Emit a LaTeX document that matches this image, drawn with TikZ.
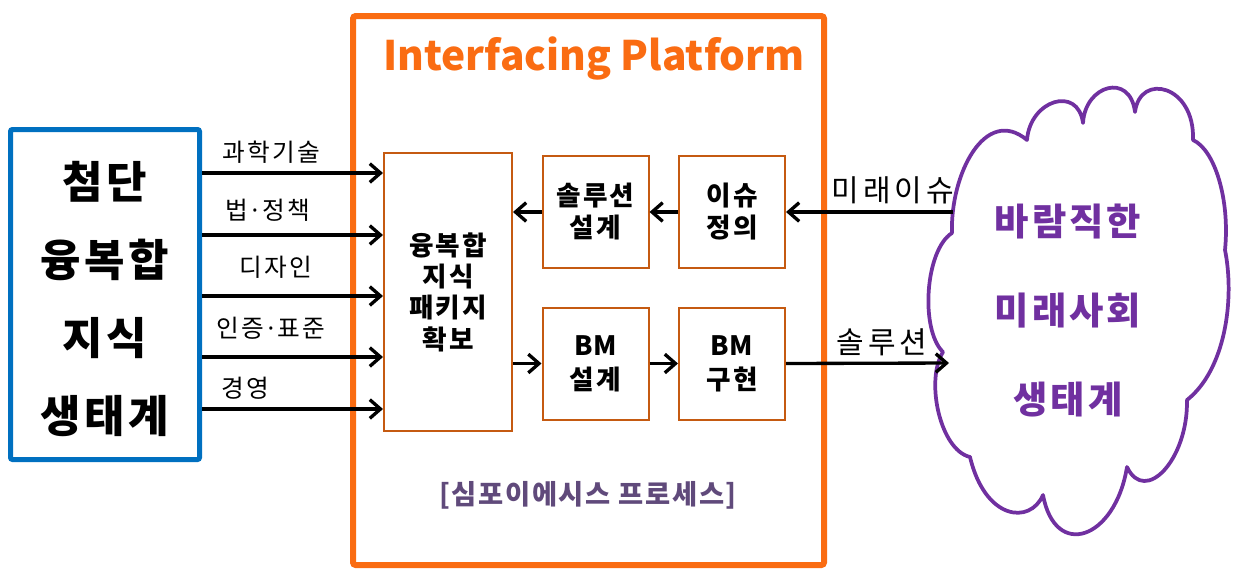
\documentclass[tikz,border=0pt]{standalone}
\usepackage{fontspec}
\setmainfont{Noto Sans CJK KR}
\newfontfamily\titlefont{Noto Sans CJK KR}
\usetikzlibrary{arrows.meta}
\definecolor{frameorange}{RGB}{250,108,18}
\definecolor{boxorange}{RGB}{197,90,17}
\definecolor{ecoblue}{RGB}{0,112,192}
\definecolor{cloudpurple}{RGB}{112,48,160}
\definecolor{procgray}{RGB}{96,74,123}
\newcommand\spaced[1]{\addfontfeature{LetterSpace=#1}}
\begin{document}
\begin{tikzpicture}[x=0.75pt,y=-0.75pt,
  arr/.style={line width=2.5pt,-{Straight Barb[length=8pt,width=14pt]}},
  stepbox/.style={draw=boxorange,line width=1.5pt,fill=white,inner sep=0pt,
    minimum width=79.5pt,minimum height=84pt,align=center,
    font=\fontsize{20}{24}\selectfont\bfseries\spaced{8}},
  flowlabel/.style={inner sep=0pt,font=\fontsize{18.5}{20}\selectfont\spaced{9}},
  sidelabel/.style={inner sep=0pt,font=\fontsize{22.5}{24}\selectfont\spaced{13}}]
\useasboundingbox (0,0) rectangle (1234,569);

% left ecosystem box
\node[draw=ecoblue,line width=3.75pt,rounded corners=1.5pt,inner sep=0pt,
  minimum width=141.75pt,minimum height=247.5pt] (eco) at (105,294.5) {};
\node[align=center,inner sep=0pt,font=\fontsize{33}{58.5}\selectfont\bfseries\spaced{8}]
  (ecotxt) at (105,298.5) {첨단\\융복합\\지식\\생태계};

% platform frame and title
\node[draw=frameorange,line width=4.5pt,rounded corners=2pt,inner sep=0pt,
  minimum width=353.25pt,minimum height=411.75pt] (platform) at (588.5,290.5) {};
\node[anchor=base,inner sep=0pt,text=frameorange,
  font=\titlefont\fontsize{30.5}{36}\selectfont\bfseries] (title) at (594,70) {Interfacing Platform};

% process boxes
\node[draw=boxorange,line width=1.5pt,fill=white,inner sep=0pt,
  minimum width=96pt,minimum height=208.5pt,align=center,
  font=\fontsize{20}{23.5}\selectfont\bfseries\spaced{8}] (pkg) at (448,292)
  {융복합\\지식\\패키지\\확보};
\node[stepbox] (soldes) at (595.5,212) {솔루션\\설계};
\node[stepbox] (issue) at (732,212) {이슈\\정의};
\node[stepbox,font=\fontsize{20}{25.5}\selectfont\bfseries\spaced{8}] (bmdes) at (595.5,363.5)
  {{\spaced{1}BM}\\설계};
\node[stepbox,font=\fontsize{20}{25.5}\selectfont\bfseries\spaced{8}] (bmimp) at (732,363.5)
  {{\spaced{1}BM}\\구현};

\node[inner sep=0pt,text=procgray,font=\fontsize{20.5}{22}\selectfont\bfseries\spaced{6}]
  (proc) at (588,495) {[심포이에시스 프로세스]};

% input rows from the ecosystem box
\coordinate (r1) at (0,173);
\coordinate (r2) at (0,235);
\coordinate (r3) at (0,296);
\coordinate (r4) at (0,357);
\coordinate (r5) at (0,409);
\foreach \r in {r1,r2,r3,r4,r5}
  \draw[arr] (eco.east |- \r) -- (pkg.west |- \r);
\node[flowlabel] (l1) at (271,152) {과학기술};
\node[flowlabel] (l2) at (268,210) {법{\spaced{0}·}정책};
\node[flowlabel] (l3) at (276,267) {디자인};
\node[flowlabel] (l4) at (271,328) {인증{\spaced{0}·}표준};
\node[flowlabel] (l5) at (245,388) {경영};

% internal flow
\draw[arr] (issue.west) -- (soldes.east);
\draw[arr] (soldes.west) -- (pkg.east |- soldes.west);
\draw[arr] (pkg.east |- bmdes.west) -- (bmdes.west);
\draw[arr] (bmdes.east) -- (bmimp.west);

% future society cloud
\draw[cloudpurple,line width=2.8pt,line join=round,fill=white]
  (952,233) .. controls (950,175) and (985,105) .. (1027,140)
  .. controls (1030,100) and (1078,85) .. (1083,123)
  .. controls (1085,85) and (1130,72) .. (1135,112)
  .. controls (1140,72) and (1195,85) .. (1193,140)
  .. controls (1215,150) and (1230,200) .. (1225,250)
  .. controls (1235,300) and (1225,370) .. (1187,400)
  .. controls (1188,460) and (1145,505) .. (1127,467)
  .. controls (1115,540) and (1055,560) .. (1043,495)
  .. controls (1030,525) and (985,520) .. (970,457)
  .. controls (940,450) and (925,380) .. (943,352)
  .. controls (920,330) and (925,250) .. (952,233) -- cycle;
\node[align=center,inner sep=0pt,text=cloudpurple,
  font=\fontsize{28}{66.75}\selectfont\bfseries\spaced{8}] (society) at (1068,311)
  {바람직한\\미래사회\\생태계};
\coordinate (cin) at (953,212);
\coordinate (cout) at (949,363);

\draw[arr] (cin) -- (issue.east);
\draw[arr] (bmimp.east) -- (cout);
\node[sidelabel] (lissue) at (893,190) {미래이슈};
\node[sidelabel] (lsol) at (882,342) {솔루션};
\end{tikzpicture}
\end{document}
